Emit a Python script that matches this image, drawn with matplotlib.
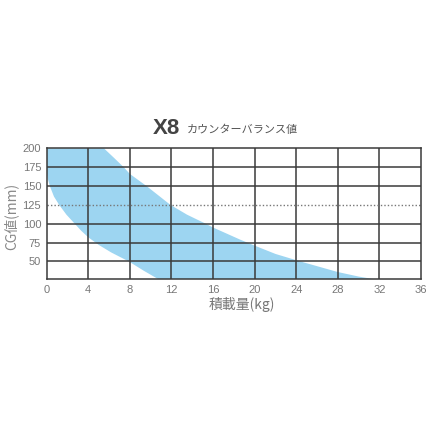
import numpy as np
import matplotlib.pyplot as plt

plt.rcParams['font.family'] = ['Liberation Sans', 'Noto Sans CJK JP', 'DejaVu Sans']

# band edges (load kg, CG mm)
upper_kg = [0, 5.5, 6.5, 7.4, 8, 9.6, 11.9, 13.5, 15.3, 16, 18.6, 20, 22, 24.4, 28, 30, 31.7]
upper_cg = [200, 200, 187, 175, 166, 150, 125, 112, 100, 95, 79, 71, 60, 50, 36, 30, 26]
lower_kg = [0, 0.1, 0.3, 0.7, 1.2, 1.9, 2.7, 3.3, 4, 5, 6.2, 7.9, 9.3, 10.8]
lower_cg = [169, 160, 150, 136, 125, 112, 100, 91, 82, 72, 62, 50, 38, 26]

x_ticks = list(range(0, 37, 4))
y_ticks = [50, 75, 100, 125, 150, 175, 200]

fig = plt.figure(figsize=(4.3, 4.3), dpi=100)
ax = fig.add_axes([0.1086, 0.3507, 0.8705, 0.3044])

# polygon: upper edge out, lower edge back
px = upper_kg + lower_kg[::-1]
py = upper_cg + lower_cg[::-1]
ax.fill(px, py, color='#9dd5f1', lw=0, zorder=1)

ax.set_xlim(0, 36)
ax.set_ylim(26.5, 200)
ax.set_xticks(x_ticks)
ax.set_yticks(y_ticks)
ax.tick_params(length=0, labelsize=8, labelcolor='#777777', pad=4)

grid_c = '#3a3a3a'
for x in x_ticks[1:-1]:
    ax.axvline(x, color=grid_c, lw=1.1, zorder=2)
for y in [50, 75, 100, 150, 175]:
    ax.axhline(y, color=grid_c, lw=1.1, zorder=2)
ax.axhline(125, color='#777777', lw=1.0, ls=(0, (1, 1.5)), zorder=2)
for s in ax.spines.values():
    s.set_color(grid_c)
    s.set_linewidth(1.1)

fig.text(0.355, 0.702, 'X8', fontsize=16, fontweight='bold', color='#444444',
         ha='left', va='center')
fig.text(0.435, 0.699, 'カウンターバランス値', fontsize=8, color='#555555',
         ha='left', va='center', family=['Noto Sans CJK JP', 'DejaVu Sans'])
fig.text(0.025, 0.497, 'CG値(mm)', fontsize=10, color='#888888', rotation=90,
         ha='center', va='center', family=['Noto Sans CJK JP', 'DejaVu Sans'])
fig.text(0.563, 0.291, '積載量(kg)', fontsize=10, color='#777777',
         ha='center', va='center', family=['Noto Sans CJK JP', 'DejaVu Sans'])

fig.savefig('out.png', dpi=100)
